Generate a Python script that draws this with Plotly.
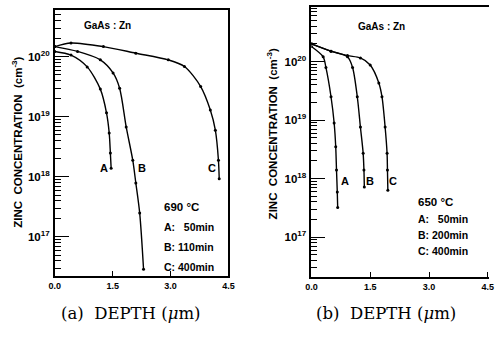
import plotly.graph_objects as go

# ---- data (depth in um, zinc concentration in cm^-3) ----
a690_x = [0.0, 0.42, 0.84, 1.18, 1.34, 1.41, 1.44, 1.46]
a690_y = [1.23e20, 1.07e20, 6.8e19, 2.9e19, 1.17e19, 5.4e18, 2.5e18, 1.4e18]
b690_x = [0.0, 0.59, 1.18, 1.51, 1.68, 1.85, 2.02, 2.10, 2.20, 2.30]
b690_y = [1.48e20, 1.23e20, 8.9e19, 5.4e19, 3.0e19, 6.8e18, 1.9e18, 7.9e17, 2.5e17, 2.9e16]
c690_x = [0.0, 0.42, 1.26, 2.10, 2.94, 3.36, 3.78, 4.03, 4.16, 4.24, 4.26]
c690_y = [1.48e20, 1.7e20, 1.48e20, 1.15e20, 8.9e19, 6.9e19, 3.2e19, 1.3e19, 6.0e18, 1.9e18, 9.3e17]

a650_x = [0.0, 0.30, 0.37, 0.50, 0.58, 0.62, 0.64, 0.66, 0.67]
a650_y = [1.8e20, 1.2e20, 7.9e19, 2.5e19, 8.9e18, 3.5e18, 1.4e18, 5.9e17, 3.2e17]
b650_x = [0.0, 0.50, 0.92, 1.05, 1.17, 1.25, 1.32, 1.34, 1.35]
b650_y = [2.0e20, 1.5e20, 1.2e20, 7.9e19, 2.5e19, 7.6e18, 2.7e18, 1.4e18, 7.2e17]
c650_x = [0.0, 0.50, 0.92, 1.25, 1.50, 1.72, 1.80, 1.88, 1.93, 1.94, 1.95]
c650_y = [2.0e20, 1.5e20, 1.26e20, 1.15e20, 8.7e19, 4.3e19, 2.5e19, 7.6e18, 2.7e18, 1.4e18, 6.3e17]

x_ticks = [0.0, 1.5, 3.0, 4.5]
x_ticklabels = ["0.0", "1.5", "3.0", "4.5"]
y_ticks = [1e17, 1e18, 1e19, 1e20]
y_ticklabels = ["10<sup>17</sup>", "10<sup>18</sup>", "10<sup>19</sup>", "10<sup>20</sup>"]
y_minor = [k * 10.0 ** n for n in range(16, 21) for k in range(2, 10)]

W, H = 495, 337
def px(x):
    return x / W
def py(y):
    return 1 - y / H

fig = go.Figure()
line = dict(color="black", width=1.4, shape="spline", smoothing=0.8)
mk = dict(color="black", size=3)
for xs, ys in [(a690_x, a690_y), (b690_x, b690_y), (c690_x, c690_y)]:
    fig.add_trace(go.Scatter(x=xs, y=ys, mode="lines+markers", line=line, marker=mk,
                             xaxis="x", yaxis="y", showlegend=False))
for xs, ys in [(a650_x, a650_y), (b650_x, b650_y), (c650_x, c650_y)]:
    fig.add_trace(go.Scatter(x=xs, y=ys, mode="lines+markers", line=line, marker=mk,
                             xaxis="x2", yaxis="y2", showlegend=False))

tickfont = dict(family="Liberation Sans", size=9, color="black", weight="bold")
def xax(domain, anchor, rng):
    return dict(domain=domain, anchor=anchor, range=rng, showline=True, linecolor="black",
                linewidth=1.6, mirror=True, ticks="inside", ticklen=5, tickwidth=1.3,
                tickcolor="black", tickvals=x_ticks, ticktext=x_ticklabels, tickfont=tickfont,
                showgrid=False, zeroline=False)
def yax(domain, anchor, rng, mirror):
    return dict(domain=domain, anchor=anchor, type="log", range=rng, showline=True,
                linecolor="black", linewidth=1.6, mirror=mirror, ticks="inside", ticklen=14,
                tickwidth=1.2, tickcolor="black", tickvals=y_ticks, ticktext=y_ticklabels,
                tickfont=dict(family="Liberation Sans", size=11.5, color="black", weight="bold"),
                minor=dict(ticks="inside", ticklen=6, tickwidth=1, tickcolor="black",
                           tickvals=y_minor, showgrid=False),
                showgrid=False, zeroline=False, ticklabelstandoff=1)

fig.update_layout(
    width=W, height=H, margin=dict(l=0, r=0, t=0, b=0),
    paper_bgcolor="white", plot_bgcolor="white",
    xaxis=xax([px(50), px(228)], "y", [0, 4.5]),
    yaxis=yax([py(276), py(10)], "x", [16.35, 20.78], True),
    xaxis2=xax([px(313), 1.0], "y2", [0, 4.53]),
    yaxis2=yax([py(277), py(7)], "x2", [16.32, 20.93], False),
)

bold = dict(family="Liberation Sans", color="black", weight="bold")
def ann(x, y, text, size, xanchor="center", font=None, angle=0):
    f = dict(bold) if font is None else dict(font)
    f["size"] = size
    fig.add_annotation(x=px(x), y=py(y), xref="paper", yref="paper", text=text,
                       showarrow=False, xanchor=xanchor, yanchor="middle", font=f,
                       textangle=angle)

# left panel texts
ann(104, 25, "GaAs : Zn", 10)
ann(160, 207, "690 °C", 11.5, "left")
ann(160, 227, "A:   50min", 10.5, "left")
ann(160, 247, "B: 110min", 10.5, "left")
ann(160, 267, "C: 400min", 10.5, "left")
ann(100, 168, "A", 11)
ann(139, 168, "B", 11)
ann(211, 168, "C", 11)
ann(11, 142, "ZINC  CONCENTRATION  (cm<sup>-3</sup>)", 11.5, angle=-90)

# right panel texts
ann(385, 27, "GaAs : Zn", 10)
ann(420, 202, "650 °C", 11.5, "left")
ann(420, 219, "A:   50min", 10.5, "left")
ann(420, 235, "B: 200min", 10.5, "left")
ann(420, 251, "C: 400min", 10.5, "left")
ann(347, 181, "A", 11)
ann(373, 181, "B", 11)
ann(397, 181, "C", 11)
ann(273, 134, "ZINC  CONCENTRATION  (cm<sup>-3</sup>)", 11.5, angle=-90)

serif = dict(family="DejaVu Serif", color="black")
ann(128, 313, "(a)  DEPTH (<i>μ</i>m)", 16.5, font=serif)
ann(389, 313, "(b)  DEPTH (<i>μ</i>m)", 16.5, font=serif)

fig.write_html("out.html")
